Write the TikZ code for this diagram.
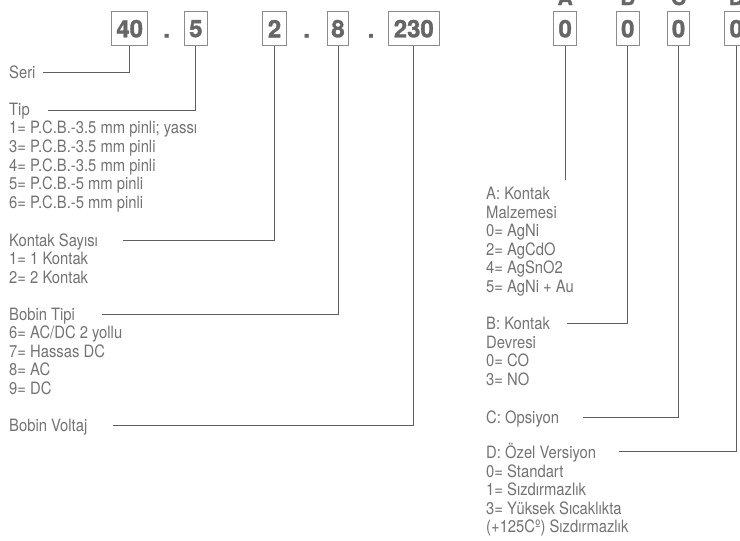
\documentclass[tikz,border=0pt]{standalone}
\usepackage{fontspec}
\setmainfont{TeX Gyre Heros}[FakeStretch=0.87]
\newfontfamily\boxfont{TeX Gyre Heros}[BoldFeatures={FakeBold=1.5}]
\definecolor{txtgray}{HTML}{737373}
\definecolor{linegray}{HTML}{5F5F5F}
\definecolor{boxgray}{HTML}{8C8C8C}
\definecolor{digitgray}{HTML}{666666}
\begin{document}
\begin{tikzpicture}[x=1pt,y=-1pt,
  conn/.style={draw=linegray,line width=0.9pt},
  digitbox/.style={draw=boxgray,line width=1pt,minimum height=34pt,inner sep=0pt,
    font=\boxfont\bfseries\fontsize{24}{24}\selectfont,text=digitgray},
  sepdot/.style={anchor=base,inner sep=0pt,text=digitgray,
    font=\boxfont\bfseries\fontsize{24}{24}\selectfont},
  letter/.style={anchor=base,inner sep=0pt,text=digitgray,
    font=\boxfont\bfseries\fontsize{21}{21}\selectfont},
  lbl/.style={anchor=north west,inner sep=0pt,align=left,text=txtgray,
    font=\fontsize{17}{18.6}\selectfont}]
\useasboundingbox (0,0) rectangle (740,541);

% code boxes
\node[digitbox,minimum width=36pt]   (b40)  at (129.7,28.7) {40};
\node[digitbox,minimum width=23pt]   (b5)   at (195.8,28.7) {5};
\node[digitbox,minimum width=23.4pt] (b2)   at (274.5,28.7) {2};
\node[digitbox,minimum width=21.4pt] (b8)   at (338,28.7) {8};
\node[digitbox,minimum width=51pt]   (b230) at (413.8,28.7) {230};
\node[digitbox,minimum width=23.4pt] (bA)   at (565.2,28.7) {0};
\node[digitbox,minimum width=22.6pt] (bB)   at (627.8,28.7) {0};
\node[digitbox,minimum width=22.3pt] (bC)   at (678.6,28.7) {0};
\node[digitbox,minimum width=23pt]   (bD)   at (736.3,28.7) {0};

\node[sepdot] (dot1) at (166.7,37.5) {.};
\node[sepdot] (dot2) at (306.7,37.5) {.};
\node[sepdot] (dot3) at (371,37.5) {.};

\node[letter] (lA) at (565.2,5) {A};
\node[letter] (lB) at (627.8,5) {B};
\node[letter] (lC) at (678.6,5) {C};
\node[letter] (lD) at (736.3,5) {D};

% left labels
\node[lbl] (tSeri) at (9,61.3) {\rule{0pt}{17pt}Seri};
\node[lbl] (tTip) at (9,98) {\rule{0pt}{17pt}Tip\\
1= P.C.B.-3.5 mm pinli; yassı\\
3= P.C.B.-3.5 mm pinli\\
4= P.C.B.-3.5 mm pinli\\
5= P.C.B.-5 mm pinli\\
6= P.C.B.-5 mm pinli};
\node[lbl] (tKontak) at (9,228.8) {\rule{0pt}{17pt}Kontak Sayısı\\
1= 1 Kontak\\
2= 2 Kontak};
\node[lbl] (tBobTip) at (9,302.8) {\rule{0pt}{17pt}Bobin Tipi\\
6= AC/DC 2 yollu\\
7= Hassas DC\\
8= AC\\
9= DC};
\node[lbl] (tBobVolt) at (9,414.5) {\rule{0pt}{17pt}Bobin Voltaj};

% right labels
\node[lbl] (tA) at (486,182.3) {\rule{0pt}{17pt}A: Kontak\\
Malzemesi\\
0= AgNi\\
2= AgCdO\\
4= AgSnO2\\
5= AgNi + Au};
\node[lbl] (tB) at (486,312.3) {\rule{0pt}{17pt}B: Kontak\\
Devresi\\
0= CO\\
3= NO};
\node[lbl] (tC) at (486,405.9) {\rule{0pt}{17pt}C: Opsiyon};
\node[lbl] (tD) at (486,441.3) {\rule{0pt}{17pt}D: Özel Versiyon\\
0= Standart\\
1= Sızdırmazlık\\
3= Yüksek Sıcaklıkta\\
(+125Cº) Sızdırmazlık};

% connector ends
\coordinate (eSeri) at (43,72.3);
\coordinate (eTip) at (48,110);
\coordinate (eKontak) at (122.7,240);
\coordinate (eBobTip) at (101.7,314);
\coordinate (eBobVolt) at (112.7,425.7);
\coordinate (eA) at (565.2,180);
\coordinate (eB) at (567.3,323.3);
\coordinate (eC) at (582.7,417.3);
\coordinate (eD) at (619.3,451.7);

\draw[conn] (b40.south) |- (eSeri);
\draw[conn] (b5.south) |- (eTip);
\draw[conn] (b2.south) |- (eKontak);
\draw[conn] (b8.south) |- (eBobTip);
\draw[conn] (b230.south) |- (eBobVolt);
\draw[conn] (bA.south) -- (eA);
\draw[conn] (bB.south) |- (eB);
\draw[conn] (bC.south) |- (eC);
\draw[conn] (bD.south) |- (eD);
\end{tikzpicture}
\end{document}
